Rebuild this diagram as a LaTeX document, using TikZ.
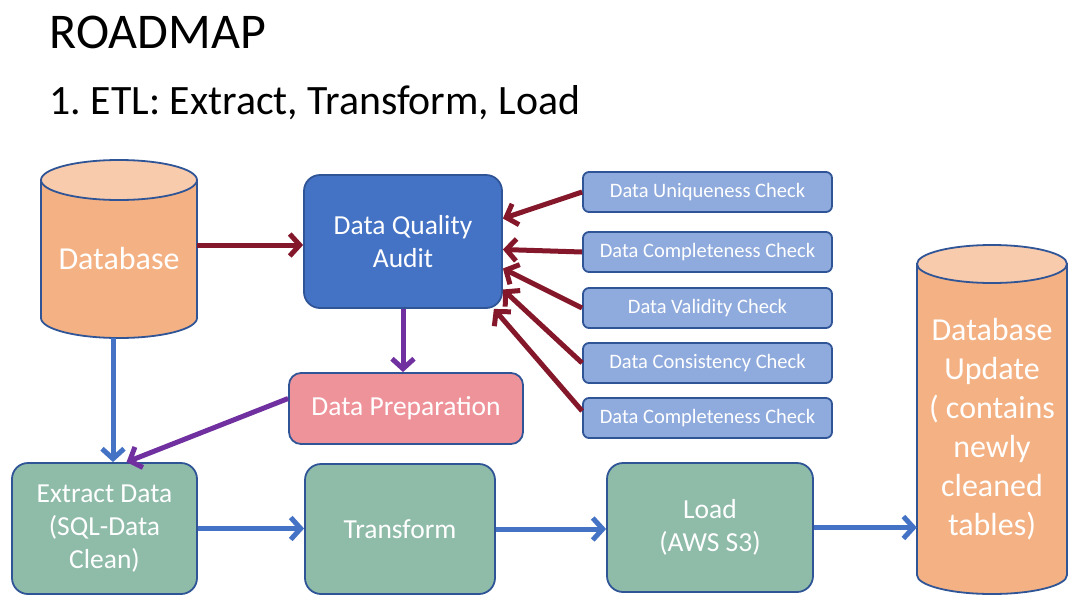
\documentclass[tikz,border=0pt]{standalone}
\usepackage{fontspec}
\setmainfont{Carlito}
\usetikzlibrary{arrows.meta}

\definecolor{edgeblue}{HTML}{2F5597}
\definecolor{auditblue}{HTML}{4472C4}
\definecolor{checkblue}{HTML}{8FAADC}
\definecolor{prepred}{HTML}{EF939B}
\definecolor{stagegreen}{HTML}{8FBBA9}
\definecolor{cylbody}{HTML}{F4B183}
\definecolor{cyltop}{HTML}{F8CBAD}
\definecolor{arrowred}{HTML}{84182A}
\definecolor{arrowpurple}{HTML}{7030A0}

\tikzset{
 box/.style={draw=edgeblue, line width=1.8pt, rounded corners=16pt, text=white, align=center, inner sep=0pt},
 stagebox/.style={box, fill=stagegreen, font=\fontsize{27.5}{33}\selectfont},
 checkitem/.style={box, fill=checkblue, rounded corners=6pt, minimum width=249pt, minimum height=40pt, font=\fontsize{20.5}{22}\selectfont},
 cyltext/.style={text=white, align=center, inner sep=0pt, font=\fontsize{32}{39}\selectfont},
 flow/.style={line width=5pt, -{Straight Barb[length=10pt,width=22pt]}},
}

\begin{document}
\frenchspacing
\begin{tikzpicture}[x=1pt,y=-1pt]

 \useasboundingbox (0,0) rectangle (1085,603);

 \node[anchor=base west, font=\fontsize{50}{60}\selectfont] (title) at (46,48) {ROADMAP};
 \node[anchor=base west, font=\fontsize{41.8}{52}\selectfont] (subtitle) at (46,114) {1. ETL: Extract, Transform, Load};

% Source database cylinder
 \filldraw[fill=cylbody, draw=edgeblue, line width=1.8pt] (41,180) -- (41,318) arc[start angle=180, end angle=360, x radius=78pt, y radius=20pt] -- (197,180) -- cycle;
 \filldraw[fill=cyltop, draw=edgeblue, line width=1.8pt] (119,180) ellipse[x radius=78pt, y radius=20pt];
 \node[cyltext, minimum width=156pt, minimum height=158pt] (db) at (119,259) {Database};

% Target database cylinder
 \filldraw[fill=cylbody, draw=edgeblue, line width=1.8pt] (917,264) -- (917,575) arc[start angle=180, end angle=360, x radius=75pt, y radius=19pt] -- (1067,264) -- cycle;
 \filldraw[fill=cyltop, draw=edgeblue, line width=1.8pt] (992,264) ellipse[x radius=75pt, y radius=19pt];
 \node[cyltext, minimum width=150pt] (dbupdate) at (992,429) {Database\\Update\\( contains\\newly\\cleaned\\tables)};

% Audit and checks
 \node[box, fill=auditblue, minimum width=198pt, minimum height=133pt, font=\fontsize{27.5}{33}\selectfont] (audit) at (403,241.5) {Data Quality\\Audit};
 \node[checkitem] (uniq) at (707.5,192) {Data Uniqueness Check};
 \node[checkitem] (compl) at (707.5,252) {Data Completeness Check};
 \node[checkitem] (valid) at (707.5,308) {Data Validity Check};
 \node[checkitem] (consist) at (707.5,363) {Data Consistency Check};
 \node[checkitem] (complb) at (707.5,418) {Data Completeness Check};

 \node[box, fill=prepred, rounded corners=12pt, minimum width=234pt, minimum height=71pt, font=\fontsize{27.5}{33}\selectfont] (prep) at (406,408.5) {Data Preparation};

% ETL stages
 \node[stagebox, minimum width=185pt, minimum height=131pt] (extract) at (104.5,528.5) {Extract Data\\(SQL-Data\\Clean)};
 \node[stagebox, minimum width=190pt, minimum height=130pt] (transform) at (400,529) {Transform};
 \node[stagebox, minimum width=206pt, minimum height=129pt] (load) at (710,527.5) {Load\\(AWS S3)};

% Connectors
 \draw[flow, arrowred] ([yshift=14pt]db.east) -- ([yshift=14pt]db.east -| audit.west);
 \draw[flow, arrowred] (uniq.west) -- ([yshift=23pt]audit.east);
 \draw[flow, arrowred] (compl.west) -- ([yshift=-8pt]audit.east);
 \draw[flow, arrowred] (valid.west) -- ([yshift=-27pt]audit.east);
 \draw[flow, arrowred] (consist.west) -- ([yshift=-48pt]audit.east);
 \draw[flow, arrowred] ([yshift=7pt]complb.west) -- ([xshift=-9pt]audit.south east);

 \draw[flow, arrowpurple] (audit.south) -- (audit.south |- prep.north);
 \draw[flow, arrowpurple] ([yshift=10pt]prep.west) -- ([xshift=22pt]extract.north);

 \draw[flow, auditblue] ([xshift=-6pt]db.south) -- ([xshift=-6pt]db.south |- extract.north);
 \draw[flow, auditblue] (extract.east) -- (extract.east -| transform.west);
 \draw[flow, auditblue] (transform.east) -- (transform.east -| load.west);
 \draw[flow, auditblue] (load.east) -- (load.east -| dbupdate.west);

\end{tikzpicture}
\end{document}
